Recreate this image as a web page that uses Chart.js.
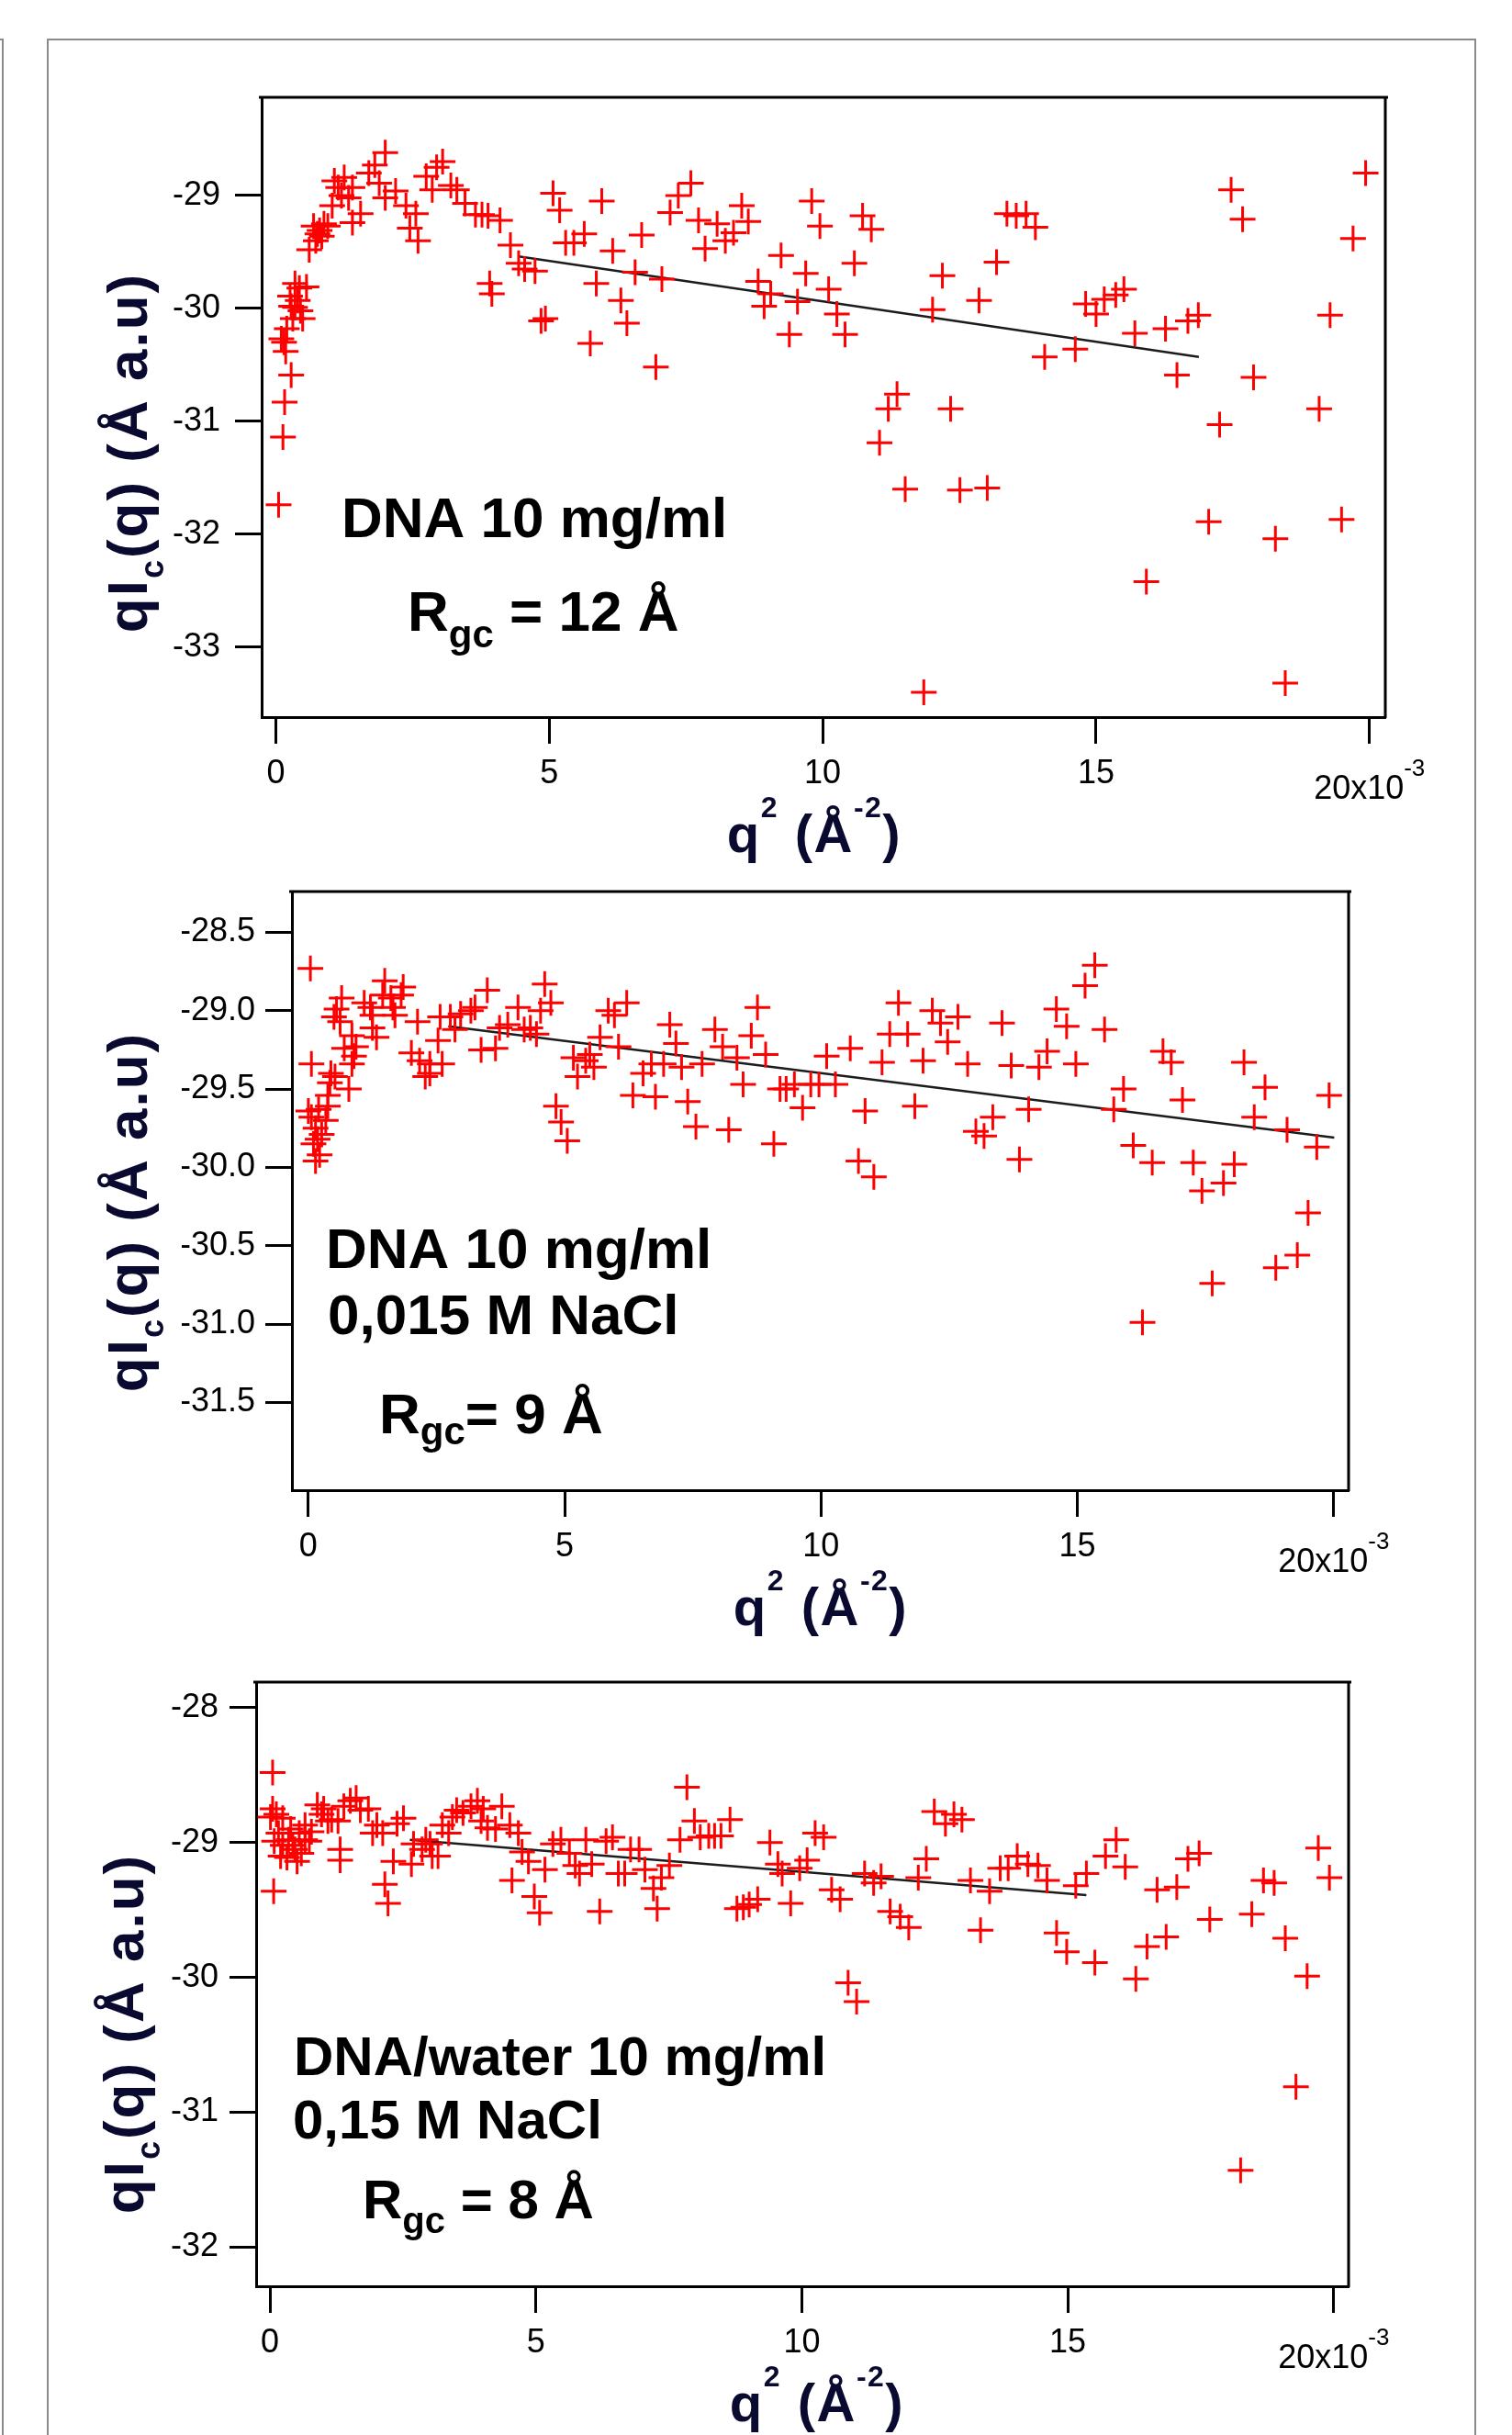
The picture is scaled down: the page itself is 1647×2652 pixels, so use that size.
<!DOCTYPE html>
<html>
<head>
<meta charset="utf-8">
<script src="https://cdn.jsdelivr.net/npm/chart.js@4.4.1/dist/chart.umd.min.js"></script>
<style>
  html, body { margin: 0; padding: 0; background: #fff; }
  body { width: 1647px; height: 2652px; position: relative; overflow: hidden; }
  canvas { position: absolute; left: 0; }
  .frame { position: absolute; border: 0 solid #8a8a8a; }
</style>
</head>
<body>
<div class="frame" style="left:51px;top:42px;width:1553px;height:2620px;border-width:2px 2px 0 2px"></div>
<div class="frame" style="left:0;top:42px;width:2px;height:2620px;border-width:2px 2px 0 0"></div>
<canvas id="chart1" width="1647" height="960" style="top:0"></canvas>
<canvas id="chart2" width="1647" height="880" style="top:930px"></canvas>
<canvas id="chart3" width="1647" height="862" style="top:1790px"></canvas>
<script>
const FONT = '"Liberation Sans", Arial, sans-serif';
const INK = "#000";
const TITLE_INK = "#0a0a30";

// x axis (same on the three panels), q^2 in 1e-3 A^-2
const xTicks = [0, 5, 10, 15, 20];
const xTickLabels = ["0", "5", "10", "15", ""];
const xLastLabel = "20x10";
const xLastExp = "-3";

// panel 1 : DNA 10 mg/ml
const p1X = [0.05, 0.13, 0.16, 0.28, 0.10, 0.18, 0.15, 0.31, 0.49, 0.35, 0.26, 0.43, 0.56, 0.35, 0.28, 0.20, 0.40, 0.45,
  0.61, 0.73, 0.80, 0.88, 0.69, 0.95, 0.84, 0.76, 1.03, 1.14, 1.25, 1.07, 1.33, 1.40, 1.55, 1.40, 1.20, 1.70, 1.81, 2.00,
  1.89, 2.00, 2.19, 2.38, 2.56, 2.45, 2.60, 2.75, 2.94, 3.05, 2.86, 3.20, 3.31, 3.46, 3.65, 3.77, 3.88, 4.10, 4.29, 4.44,
  4.55, 4.74, 3.95, 3.91, 4.93, 4.85, 5.07, 5.19, 5.30, 5.45, 5.64, 5.86, 5.75, 5.96, 6.16, 6.31, 6.42, 6.57, 6.69, 6.95,
  7.06, 7.21, 7.36, 7.59, 7.73, 7.85, 8.07, 8.22, 8.37, 8.52, 8.64, 8.82, 8.93, 9.05, 9.24, 9.39, 9.54, 9.69, 9.80, 9.95,
  10.11, 10.26, 10.41, 10.58, 10.73, 10.89, 11.04, 11.20, 11.36, 11.51, 11.85, 12.01, 12.19, 12.34, 12.51, 12.86, 13.01,
  13.18, 13.37, 13.54, 13.72, 13.89, 14.06, 14.62, 14.81, 15.00, 15.15, 15.36, 15.51, 15.71, 15.92, 16.27, 16.48, 16.68,
  16.87, 17.06, 17.26, 17.47, 17.68, 17.88, 18.28, 18.46, 19.08, 19.28, 19.49, 19.70, 19.93];
const p1Y = [-31.74, -31.14, -30.83, -30.59, -30.27, -30.38, -30.30, -30.09, -30.09, -29.99, -29.89, -29.82, -29.81, -29.78,
  -29.98, -30.18, -29.93, -30.02, -29.48, -29.40, -29.31, -29.25, -29.27, -29.27, -29.36, -29.34, -29.09, -28.93, -28.84,
  -28.87, -29.02, -28.93, -29.16, -29.24, -29.00, -28.80, -28.73, -28.62, -28.89, -29.02, -28.96, -29.09, -29.16, -29.29,
  -29.40, -28.83, -28.75, -28.70, -28.95, -28.91, -28.95, -29.07, -29.17, -29.17, -29.18, -29.22, -29.44, -29.60, -29.65,
  -29.67, -29.87, -29.78, -30.09, -30.11, -28.98, -29.13, -29.42, -29.42, -29.34, -29.78, -30.31, -29.05, -29.49, -29.93,
  -30.13, -29.68, -29.35, -30.52, -29.74, -29.15, -29.00, -28.89, -29.22, -29.47, -29.25, -29.40, -29.33, -29.09, -29.23,
  -29.76, -29.98, -29.87, -29.53, -30.23, -29.94, -29.69, -29.05, -29.27, -29.83, -30.05, -30.23, -29.60, -29.18, -29.30,
  -31.19, -30.89, -30.76, -31.60, -33.40, -30.01, -29.71, -30.89, -31.61, -29.93, -31.59, -29.59, -29.16, -29.18, -29.16,
  -29.28, -30.43, -30.36, -29.96, -30.05, -29.92, -29.88, -29.83, -30.22, -32.42, -30.18, -30.59, -30.11, -30.06, -31.89,
  -31.03, -28.95, -29.21, -30.61, -32.04, -33.32, -30.89, -30.06, -31.87, -29.38, -28.80];
const p1FitX = [4.44, 16.88];
const p1FitY = [-29.54, -30.43];
const p1YTicks = [-29, -30, -31, -32, -33];
const p1YTickLabels = ["-29", "-30", "-31", "-32", "-33"];

// panel 2 : DNA 10 mg/ml, 0,015 M NaCl
const p2X = [0.04, 0.06, 0.00, 0.06, 0.14, 0.18, 0.10, 0.22, 0.14, 0.26, 0.34, 0.20, 0.38, 0.44, 0.52, 0.42, 0.79, 0.38,
  0.55, 0.65, 0.50, 0.62, 0.70, 0.85, 0.93, 0.89, 0.85, 1.09, 1.21, 1.25, 1.33, 1.25, 1.49, 1.45, 1.61, 1.65, 1.81, 1.85,
  1.69, 2.13, 2.01, 2.17, 2.37, 2.37, 2.28, 2.61, 2.53, 2.57, 2.77, 2.86, 2.97, 3.17, 3.25, 3.37, 3.65, 3.49, 3.73, 3.89,
  4.09, 4.21, 4.33, 4.45, 4.61, 4.73, 4.53, 4.83, 4.93, 5.05, 5.17, 5.25, 5.41, 5.49, 5.57, 5.69, 5.85, 5.97, 6.21, 6.05,
  6.33, 6.53, 6.69, 6.77, 6.93, 7.05, 7.17, 7.28, 7.40, 7.56, 7.68, 7.93, 8.08, 8.20, 8.36, 8.48, 8.64, 8.76, 8.92, 9.08,
  9.20, 9.32, 9.48, 9.64, 9.80, 9.96, 10.11, 10.28, 10.57, 10.73, 10.86, 11.03, 11.19, 11.34, 11.51, 11.69, 11.83, 11.99,
  12.17, 12.33, 12.47, 12.67, 12.86, 13.02, 13.18, 13.35, 13.53, 13.71, 13.87, 14.05, 14.25, 14.41, 14.59, 14.79, 14.97,
  15.15, 15.34, 15.53, 15.71, 15.90, 16.09, 16.27, 16.46, 16.67, 16.83, 17.05, 17.26, 17.43, 17.63, 17.85, 18.06, 18.25,
  18.45, 18.66, 18.87, 19.09, 19.29, 19.50, 19.67, 19.91];
const p2Y = [-28.73, -29.34, -29.64, -29.68, -29.75, -29.82, -29.85, -29.92, -29.96, -29.79, -29.70, -29.63, -29.61, -29.40,
  -29.42, -29.46, -29.50, -29.54, -28.99, -28.92, -29.04, -29.07, -29.24, -29.16, -29.23, -29.29, -29.34, -28.95, -28.98,
  -29.03, -29.17, -29.11, -28.81, -28.90, -28.92, -28.98, -28.90, -28.85, -29.03, -29.07, -29.27, -29.32, -29.34, -29.40,
  -29.42, -29.34, -29.19, -29.04, -29.04, -29.12, -29.02, -29.00, -28.98, -29.25, -29.24, -28.87, -29.11, -29.09, -28.98,
  -29.12, -29.11, -29.15, -28.83, -28.95, -29.00, -29.61, -29.71, -29.83, -29.30, -29.42, -29.32, -29.28, -29.36, -29.17,
  -29.00, -29.03, -28.95, -29.23, -29.54, -29.40, -29.34, -29.55, -29.34, -29.09, -29.21, -29.36, -29.58, -29.74, -29.34,
  -29.12, -29.23, -29.76, -29.30, -29.47, -29.16, -28.98, -29.28, -29.85, -29.50, -29.50, -29.47, -29.62, -29.47, -29.47,
  -29.29, -29.47, -29.24, -29.96, -29.64, -30.06, -29.33, -29.15, -28.95, -29.15, -29.61, -29.32, -29.00, -29.08, -29.20,
  -29.04, -29.34, -29.77, -29.80, -29.68, -29.08, -29.35, -29.95, -29.63, -29.36, -29.26, -28.99, -29.10, -29.34, -28.84,
  -28.71, -29.12, -29.63, -29.50, -29.86, -30.99, -29.97, -29.26, -29.33, -29.57, -29.97, -30.15, -30.74, -30.10, -29.98,
  -29.33, -29.68, -29.49, -30.64, -29.76, -30.56, -30.29, -29.87, -29.54];
const p2FitX = [2.73, 20.01];
const p2FitY = [-29.10, -29.81];
const p2YTicks = [-28.5, -29.0, -29.5, -30.0, -30.5, -31.0, -31.5];
const p2YTickLabels = ["-28.5", "-29.0", "-29.5", "-30.0", "-30.5", "-31.0", "-31.5"];

// panel 3 : DNA/water 10 mg/ml, 0,15 M NaCl
const p3X = [0.05, 0.05, 0.07, 0.01, 0.12, 0.24, 0.16, 0.08, 0.24, 0.35, 0.43, 0.20, 0.32, 0.47, 0.55, 0.66, 0.78, 0.59,
  0.66, 0.51, 0.74, 0.39, 0.89, 0.97, 1.09, 1.01, 1.16, 1.28, 1.32, 1.32, 1.39, 1.51, 1.62, 1.70, 1.85, 1.93, 2.01, 2.12,
  2.16, 2.22, 2.32, 2.39, 2.51, 2.66, 2.70, 2.86, 2.93, 3.01, 3.05, 3.16, 3.24, 3.36, 3.43, 3.51, 3.63, 3.78, 3.90, 4.01,
  3.97, 4.09, 4.24, 4.36, 4.51, 4.67, 4.55, 4.74, 4.86, 4.97, 5.07, 5.17, 5.32, 5.47, 5.63, 5.74, 5.82, 5.94, 6.05, 6.20,
  6.32, 6.44, 6.55, 6.67, 6.78, 6.94, 7.05, 7.21, 7.28, 7.36, 7.51, 7.71, 7.84, 7.98, 8.09, 8.25, 8.36, 8.48, 8.65, 8.78,
  8.90, 9.01, 9.17, 9.40, 9.55, 9.63, 9.79, 9.96, 10.10, 10.25, 10.41, 10.56, 10.72, 10.87, 11.03, 11.18, 11.35, 11.49,
  11.66, 11.85, 12.01, 12.19, 12.34, 12.49, 12.70, 12.86, 13.01, 13.17, 13.36, 13.53, 13.73, 13.88, 14.05, 14.25, 14.44,
  14.61, 14.79, 14.98, 15.15, 15.35, 15.51, 15.71, 15.91, 16.08, 16.28, 16.49, 16.68, 16.85, 17.05, 17.26, 17.47, 17.67,
  18.25, 18.46, 18.68, 18.88, 19.09, 19.29, 19.50, 19.71, 19.92];
const p3Y = [-28.48, -28.75, -29.36, -28.81, -28.79, -28.82, -28.93, -28.99, -29.02, -28.98, -29.02, -29.10, -29.11, -29.05,
  -28.93, -28.87, -28.92, -29.08, -28.98, -29.14, -28.99, -28.90, -28.72, -28.79, -28.84, -28.75, -28.83, -28.84, -29.13,
  -29.05, -28.73, -28.69, -28.67, -28.76, -28.75, -28.93, -28.87, -28.93, -29.31, -29.45, -29.14, -28.86, -28.82, -29.16,
  -29.01, -29.05, -28.98, -29.01, -29.10, -29.10, -28.87, -28.93, -28.81, -28.76, -28.78, -28.73, -28.69, -28.75, -28.84,
  -28.89, -28.90, -28.73, -28.87, -28.93, -29.28, -29.07, -29.14, -29.40, -29.52, -29.20, -29.01, -28.98, -29.08, -29.17,
  -29.23, -28.98, -29.16, -29.51, -28.99, -28.96, -29.23, -29.23, -29.05, -29.05, -29.20, -29.34, -29.49, -29.26, -29.17,
  -28.98, -28.59, -28.84, -28.96, -28.95, -28.95, -28.95, -28.83, -29.49, -29.48, -29.46, -29.42, -29.00, -29.16, -29.23,
  -29.45, -29.19, -29.13, -28.93, -28.96, -29.35, -29.42, -30.04, -30.18, -29.23, -29.30, -29.25, -29.51, -29.55, -29.63,
  -29.26, -29.12, -28.77, -28.86, -28.79, -28.83, -29.28, -29.65, -29.36, -29.19, -29.19, -29.10, -29.16, -29.17, -29.28,
  -29.67, -29.81, -29.32, -29.23, -29.89, -29.10, -28.98, -29.18, -30.01, -29.77, -29.35, -29.70, -29.33, -29.12, -29.08,
  -29.57, -31.43, -29.53, -29.28, -29.30, -29.71, -30.81, -29.99, -29.04, -29.26];
const p3FitX = [2.63, 15.35];
const p3FitY = [-28.98, -29.39];
const p3YTicks = [-28, -29, -30, -31, -32];
const p3YTickLabels = ["-28", "-29", "-30", "-31", "-32"];

const bold = (size) => "bold " + size + "px " + FONT;

// draws a run of text pieces (sub/superscripts through dy)
function drawRich(ctx, parts, x, y, angle, align, spacing) {
  ctx.save();
  ctx.translate(x, y);
  ctx.rotate(angle);
  ctx.letterSpacing = (spacing || 0) + "px";
  let total = 0;
  parts.forEach((p) => {
    ctx.font = p.font;
    total += ctx.measureText(p.text).width;
  });
  let cx = align == "center" ? -total / 2 : 0;
  parts.forEach((p) => {
    ctx.font = p.font;
    ctx.fillText(p.text, cx, p.dy || 0);
    cx += ctx.measureText(p.text).width;
  });
  ctx.restore();
}

const yTitle = [
  { text: "qI", font: bold(62) },
  { text: "c", font: bold(36), dy: 18 },
  { text: "(q) (Å a.u)", font: bold(62) },
];
const xTitle = [
  { text: "q", font: bold(58) },
  { text: "2", font: bold(32), dy: -38 },
  { text: " (Å", font: bold(58) },
  { text: "-2", font: bold(32), dy: -38 },
  { text: ")", font: bold(58) },
];

function decor(cfg) {
  return {
    id: "decor",
    afterDraw(chart) {
      const ctx = chart.ctx;
      const a = chart.chartArea;
      const xs = chart.scales.x;
      ctx.save();
      // top and right sides of the box
      ctx.strokeStyle = "#000";
      ctx.lineWidth = 3;
      ctx.beginPath();
      ctx.moveTo(a.left - 3, a.top);
      ctx.lineTo(a.right + 3, a.top);
      ctx.moveTo(a.right, a.top);
      ctx.lineTo(a.right, a.bottom + 1);
      ctx.stroke();

      ctx.textBaseline = "alphabetic";
      ctx.fillStyle = INK;
      drawRich(ctx, [
        { text: xLastLabel, font: "36px " + FONT },
        { text: xLastExp, font: "26px " + FONT, dy: -25 },
      ], xs.getPixelForValue(20), a.bottom + 89, 0, "center");

      ctx.fillStyle = TITLE_INK;
      drawRich(ctx, xTitle, cfg.xTitleX, a.bottom + 147, 0, "center", 1.5);
      drawRich(ctx, yTitle, cfg.yTitleX, cfg.yTitleY - cfg.top, -Math.PI / 2, "center", 2);

      ctx.fillStyle = INK;
      cfg.notes.forEach((n) => drawRich(ctx, n.parts, n.x, n.y - cfg.top, 0, "left"));
      ctx.restore();
    },
  };
}

function makePanel(id, cfg) {
  const points = cfg.x.map((v, i) => ({ x: v, y: cfg.y[i] }));
  const fit = cfg.fitX.map((v, i) => ({ x: v, y: cfg.fitY[i] }));
  const grid = { drawOnChartArea: false, drawTicks: true, tickLength: 29, tickWidth: 3, tickColor: "#000" };
  const border = { display: true, color: "#000", width: 3 };
  return new Chart(document.getElementById(id), {
    type: "scatter",
    data: {
      datasets: [
        {
          data: points,
          pointStyle: "cross",
          pointRadius: 14,
          pointBorderWidth: 3,
          pointBorderColor: "#ff0000",
          pointBackgroundColor: "#ff0000",
          borderColor: "#ff0000",
        },
        {
          data: fit,
          showLine: true,
          pointRadius: 0,
          borderColor: "#1c1c1c",
          borderWidth: 2.5,
        },
      ],
    },
    options: {
      responsive: false,
      animation: false,
      devicePixelRatio: 1,
      layout: { padding: cfg.padding },
      plugins: { legend: { display: false }, tooltip: { enabled: false } },
      scales: {
        x: {
          type: "linear",
          min: cfg.xMin,
          max: cfg.xMax,
          afterBuildTicks: (ax) => { ax.ticks = xTicks.map((v) => ({ value: v })); },
          afterFit: (ax) => { ax.height = 110; },
          ticks: {
            color: INK,
            padding: 11,
            font: { family: FONT, size: 36 },
            maxRotation: 0,
            autoSkip: false,
            callback: (v) => xTickLabels[xTicks.indexOf(v)],
          },
          grid: grid,
          border: border,
        },
        y: {
          type: "linear",
          min: cfg.yMin,
          max: cfg.yMax,
          afterBuildTicks: (ax) => { ax.ticks = cfg.yTicks.map((v) => ({ value: v })); },
          afterFit: (ax) => { ax.width = 120; },
          ticks: {
            color: INK,
            padding: cfg.yPad,
            font: { family: FONT, size: 36 },
            autoSkip: false,
            callback: (v) => cfg.yLabels[cfg.yTicks.indexOf(v)],
          },
          grid: grid,
          border: border,
        },
      },
    },
    plugins: [decor(cfg)],
  });
}

makePanel("chart1", {
  top: 0,
  x: p1X, y: p1Y, fitX: p1FitX, fitY: p1FitY,
  yTicks: p1YTicks, yLabels: p1YTickLabels,
  xMin: -0.26, xMax: 20.29, yMin: -33.62, yMax: -28.13,
  padding: { left: 165, right: 138, top: 106, bottom: 69 },
  yPad: 16,
  xTitleX: 887, yTitleX: 160, yTitleY: 493,
  notes: [
    { x: 372, y: 585, parts: [{ text: "DNA 10 mg/ml", font: bold(62) }] },
    { x: 444, y: 687, parts: [
      { text: "R", font: bold(62) },
      { text: "gc", font: bold(42), dy: 18 },
      { text: " = 12 Å", font: bold(62) },
    ] },
  ],
});

makePanel("chart2", {
  top: 930,
  x: p2X, y: p2Y, fitX: p2FitX, fitY: p2FitY,
  yTicks: p2YTicks, yLabels: p2YTickLabels,
  xMin: -0.32, xMax: 20.29, yMin: -32.06, yMax: -28.24,
  padding: { left: 198, right: 178, top: 41, bottom: 77 },
  yPad: 11,
  xTitleX: 894, yTitleX: 160, yTitleY: 1320,
  notes: [
    { x: 355, y: 1381, parts: [{ text: "DNA 10 mg/ml", font: bold(62) }] },
    { x: 357, y: 1453, parts: [{ text: "0,015 M NaCl", font: bold(62) }] },
    { x: 413, y: 1561, parts: [
      { text: "R", font: bold(62) },
      { text: "gc", font: bold(42), dy: 12 },
      { text: "= 9 Å", font: bold(62) },
    ] },
  ],
});

makePanel("chart3", {
  top: 1790,
  x: p3X, y: p3Y, fitX: p3FitX, fitY: p3FitY,
  yTicks: p3YTicks, yLabels: p3YTickLabels,
  xMin: -0.26, xMax: 20.28, yMin: -32.29, yMax: -27.81,
  padding: { left: 159, right: 178, top: 42, bottom: 52 },
  yPad: 12,
  xTitleX: 890, yTitleX: 156, yTitleY: 2215,
  notes: [
    { x: 320, y: 2260, parts: [{ text: "DNA/water 10 mg/ml", font: bold(60) }] },
    { x: 319, y: 2329, parts: [{ text: "0,15 M NaCl", font: bold(60) }] },
    { x: 395, y: 2416, parts: [
      { text: "R", font: bold(60) },
      { text: "gc", font: bold(40), dy: 16 },
      { text: " = 8 Å", font: bold(60) },
    ] },
  ],
});
</script>
</body>
</html>
